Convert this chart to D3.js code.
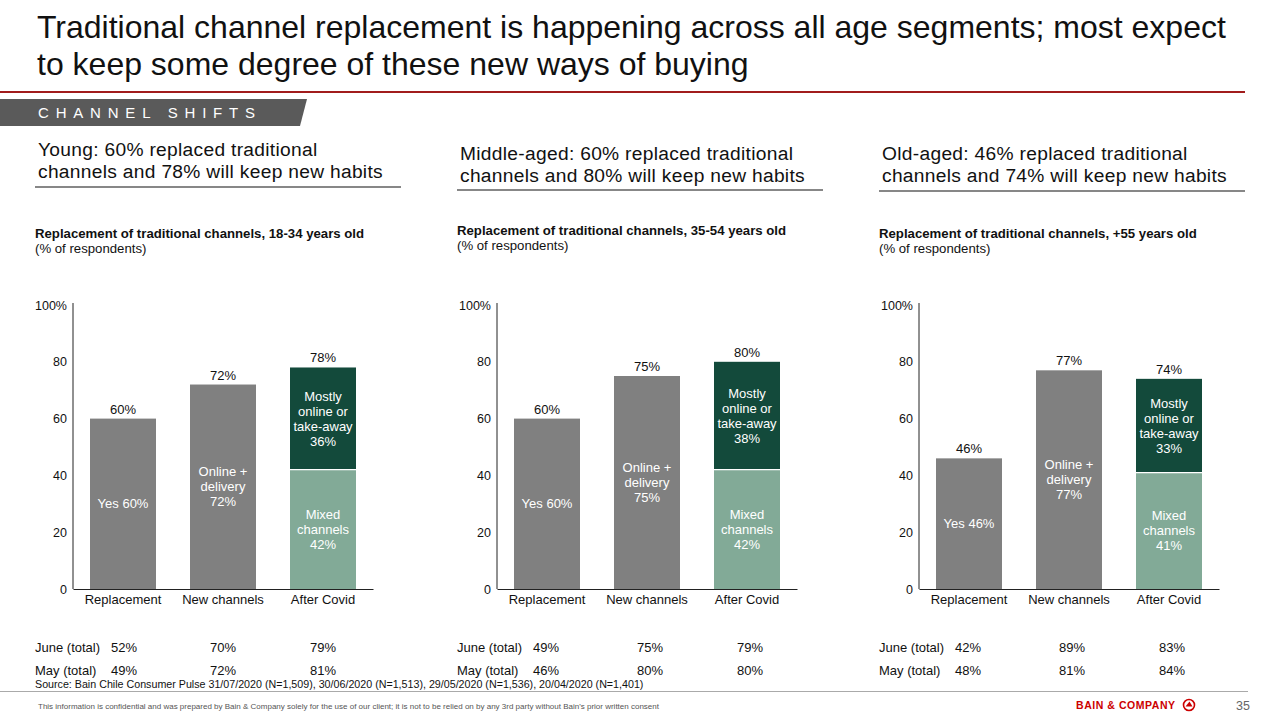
<!DOCTYPE html>
<html><head><meta charset="utf-8">
<script src="https://cdn.jsdelivr.net/npm/d3@7"></script>
<style>
html,body{margin:0;padding:0;background:#fff;}
svg{display:block;font-family:"Liberation Sans",Arial,Helvetica,sans-serif;}
</style></head>
<body>
<svg id="c" width="1280" height="720"></svg>
<script>
// ---------- DATA ----------
const titleLines = ["Traditional channel replacement is happening across all age segments; most expect","to keep some degree of these new ways of buying"];
const sectionLabel = "CHANNEL SHIFTS";
const headlines = [
  ["Young: 60% replaced traditional","channels and 78% will keep new habits"],
  ["Middle-aged: 60% replaced traditional","channels and 80% will keep new habits"],
  ["Old-aged: 46% replaced traditional","channels and 74% will keep new habits"]
];
const chartTitles = [
  "Replacement of traditional channels, 18-34 years old",
  "Replacement of traditional channels, 35-54 years old",
  "Replacement of traditional channels, +55 years old"
];
const chartSubtitle = "(% of respondents)";
const categories = ["Replacement","New channels","After Covid"];
const replacement = [60,60,46];
const newChannels = [72,75,77];
const mixedChannels = [42,42,41];
const mostlyOnline = [36,38,33];
const afterCovidTotal = [78,80,74];
const yTicks = [0,20,40,60,80,100];
const rowLabels = ["June (total)","May (total)"];
const juneTotal = [[52,70,79],[49,75,79],[42,89,83]];
const mayTotal  = [[49,72,81],[46,80,80],[48,81,84]];
const sourceText = "Source: Bain Chile Consumer Pulse 31/07/2020 (N=1,509), 30/06/2020 (N=1,513), 29/05/2020 (N=1,536), 20/04/2020 (N=1,401)";
const confidentialText = "This information is confidential and was prepared by Bain & Company solely for the use of our client; it is not to be relied on by any 3rd party without Bain's prior written consent";
const pageNumber = "35";

// ---------- LAYOUT ----------
const svg = d3.select("#c");
const GRAY = "#808080", DARK = "#134a3b", LIGHT = "#82aa97", RED = "#a11c1c";

// Title
svg.append("text").attr("font-size",32).attr("fill","#111")
  .selectAll("tspan").data(titleLines).join("tspan")
  .attr("x",37).attr("y",(d,i)=>38+i*37).text(d=>d);
svg.append("line").attr("x1",0).attr("x2",1245).attr("y1",92).attr("y2",92)
  .attr("stroke",RED).attr("stroke-width",2);

// Section banner
svg.append("path").attr("d","M0,99 L307,99 L300,126 L0,126 Z").attr("fill","#5a5a5a");
svg.append("text").attr("x",38).attr("y",118).attr("font-size",15).attr("fill","#fff")
  .attr("letter-spacing",6.8).text(sectionLabel);

// Panels
const panelX = [35,457,879];
const axisX = [73,497,919];
const headBase = [156,160,160];
const underY = [187,190,191];
const ctBase = [238,235,238];
const y = d3.scaleLinear().domain([0,100]).range([589,305]);

panelX.forEach((px,p)=>{
  const g = svg.append("g");
  // headline
  g.append("text").attr("font-size",19.2).attr("fill","#111").attr("letter-spacing",0.3)
    .selectAll("tspan").data(headlines[p]).join("tspan")
    .attr("x",px+3).attr("y",(d,i)=>headBase[p]+i*22).text(d=>d);
  g.append("line").attr("x1",px).attr("x2",px+366).attr("y1",underY[p]).attr("y2",underY[p])
    .attr("stroke","#111").attr("stroke-width",1.2);
  // chart title
  g.append("text").attr("x",px).attr("y",ctBase[p]).attr("font-size",13.2).attr("font-weight","bold")
    .attr("fill","#111").text(chartTitles[p]);
  g.append("text").attr("x",px).attr("y",ctBase[p]+14.5).attr("font-size",13.2)
    .attr("fill","#111").text(chartSubtitle);

  const ax = axisX[p];
  const x = d3.scaleBand().domain(categories).range([ax,ax+300]).paddingInner(0.34).paddingOuter(0.17);

  // y axis (labels only)
  const yAxis = d3.axisLeft(y).tickValues(yTicks).tickSize(0).tickPadding(6)
    .tickFormat(d=> d===100 ? "100%" : d);
  const ya = g.append("g").attr("transform",`translate(${ax},0)`).call(yAxis);
  ya.select(".domain").remove();
  ya.selectAll("text").attr("font-size",12.5).attr("fill","#111")
    .attr("font-family","Liberation Sans, Arial, sans-serif");
  g.append("line").attr("x1",ax).attr("x2",ax).attr("y1",303).attr("y2",589).attr("stroke","#222").attr("stroke-width",1);

  // bars
  const simple = [
    {cat:categories[0], v:replacement[p], inner:["Yes "+replacement[p]+"%"]},
    {cat:categories[1], v:newChannels[p], inner:["Online +","delivery",newChannels[p]+"%"]}
  ];
  simple.forEach(b=>{
    g.append("rect").attr("x",x(b.cat)).attr("width",x.bandwidth())
      .attr("y",y(b.v)).attr("height",y(0)-y(b.v)).attr("fill",GRAY);
    g.append("text").attr("x",x(b.cat)+x.bandwidth()/2).attr("y",y(b.v)-5)
      .attr("text-anchor","middle").attr("font-size",13).attr("fill","#111").text(b.v+"%");
    const mid = (y(b.v)+y(0))/2;
    const n = b.inner.length;
    g.append("text").attr("text-anchor","middle").attr("font-size",13).attr("fill","#fff")
      .selectAll("tspan").data(b.inner).join("tspan")
      .attr("x",x(b.cat)+x.bandwidth()/2)
      .attr("y",(d,i)=>mid + (i-(n-1)/2)*15 + 4.5).text(d=>d);
  });
  // stacked After Covid
  const c = categories[2];
  const segs = [
    {y0:0, y1:mixedChannels[p], fill:LIGHT, lines:["Mixed","channels",mixedChannels[p]+"%"]},
    {y0:mixedChannels[p], y1:mixedChannels[p]+mostlyOnline[p], fill:DARK, lines:["Mostly","online or","take-away",mostlyOnline[p]+"%"]}
  ];
  segs.forEach(s=>{
    g.append("rect").attr("x",x(c)).attr("width",x.bandwidth())
      .attr("y",y(s.y1)).attr("height",y(s.y0)-y(s.y1)).attr("fill",s.fill);
    const mid=(y(s.y0)+y(s.y1))/2, n=s.lines.length;
    g.append("text").attr("text-anchor","middle").attr("font-size",13).attr("fill","#fff")
      .selectAll("tspan").data(s.lines).join("tspan")
      .attr("x",x(c)+x.bandwidth()/2)
      .attr("y",(d,i)=>mid+(i-(n-1)/2)*15+4.5).text(d=>d);
  });
  g.append("line").attr("x1",x(c)).attr("x2",x(c)+x.bandwidth())
    .attr("y1",y(mixedChannels[p])).attr("y2",y(mixedChannels[p])).attr("stroke","#fff").attr("stroke-width",1.2);
  g.append("text").attr("x",x(c)+x.bandwidth()/2).attr("y",y(afterCovidTotal[p])-5)
    .attr("text-anchor","middle").attr("font-size",13).attr("fill","#111").text(afterCovidTotal[p]+"%");

  // x axis
  const xAxis = d3.axisBottom(x).tickSize(0).tickPadding(6);
  const xa = g.append("g").attr("transform",`translate(0,589)`).call(xAxis);
  xa.select(".domain").attr("stroke","#222");
  xa.selectAll("text").attr("font-size",13).attr("fill","#111")
    .attr("font-family","Liberation Sans, Arial, sans-serif");

  // June / May rows
  [juneTotal[p], mayTotal[p]].forEach((row,r)=>{
    const by = 652 + r*23;
    g.append("text").attr("x",px).attr("y",by).attr("font-size",13).attr("fill","#111").text(rowLabels[r]);
    g.append("text").attr("x",px+76).attr("y",by).attr("font-size",13).attr("fill","#111").text(row[0]+"%");
    row.slice(1).forEach((v,i)=>{
      const cat = categories[i+1];
      g.append("text").attr("x",x(cat)+x.bandwidth()/2+(p?3:0)).attr("y",by)
        .attr("text-anchor","middle").attr("font-size",13).attr("fill","#111").text(v+"%");
    });
  });
});

// Footer
svg.append("text").attr("x",35).attr("y",688).attr("font-size",10.7).attr("fill","#111").text(sourceText);
svg.append("line").attr("x1",0).attr("x2",1248).attr("y1",691.5).attr("y2",691.5).attr("stroke","#aaa").attr("stroke-width",1);
svg.append("text").attr("x",38).attr("y",709).attr("font-size",8).attr("fill","#555").text(confidentialText);
svg.append("text").attr("x",1076).attr("y",709).attr("font-size",10.5).attr("font-weight","bold")
  .attr("letter-spacing",0.55).attr("fill","#cc0000").text("BAIN & COMPANY");
svg.append("circle").attr("cx",1189).attr("cy",705).attr("r",5.5).attr("fill","none").attr("stroke","#cc0000").attr("stroke-width",1.6);
svg.append("path").attr("d","M1185.5,706.5 L1192.5,706.5 L1189.5,701.5 Z").attr("fill","#cc0000");
svg.append("text").attr("x",1250).attr("y",710).attr("text-anchor","end").attr("font-size",12.5).attr("fill","#666").text(pageNumber);
</script>
</body></html>
